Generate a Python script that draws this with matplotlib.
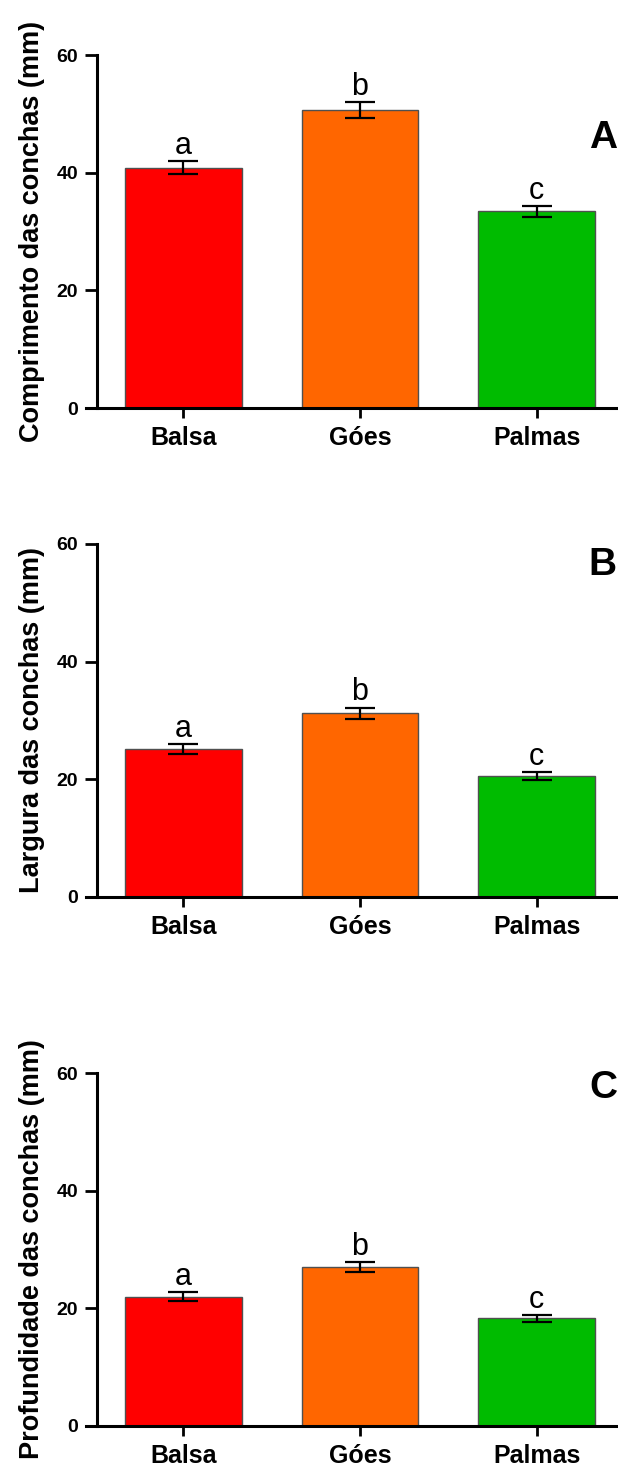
import matplotlib
matplotlib.use('Agg')
import matplotlib.pyplot as plt

plt.rcParams['font.family'] = ['Liberation Sans', 'DejaVu Sans']

locais = ['Balsa', 'Góes', 'Palmas']
cores = ['#FF0000', '#FF6600', '#00BB00']
letras = ['a', 'b', 'c']
ticks_y = [0, 20, 40, 60]

comprimento = [40.85, 50.65, 33.4]
comprimento_ep = [1.1, 1.35, 1.0]
largura = [25.2, 31.2, 20.6]
largura_ep = [0.85, 1.0, 0.65]
profundidade = [22.0, 27.1, 18.3]
profundidade_ep = [0.8, 0.85, 0.55]

paineis = [
    ('Comprimento das conchas (mm)', comprimento, comprimento_ep, 'A', 0.765),
    ('Largura das conchas (mm)', largura, largura_ep, 'B', 0.94),
    ('Profundidade das conchas (mm)', profundidade, profundidade_ep, 'C', 0.958),
]

fig = plt.figure(figsize=(6.18, 14.75), dpi=100)
fundos = [1 - 408 / 1475, 1 - 897 / 1475, 1 - 1426 / 1475]
altura = 353 / 1475
esq = 86 / 618
larg = 1 - esq

for (rotulo, medias, erros, letra, ypos), fundo in zip(paineis, fundos):
    ax = fig.add_axes([esq, fundo, larg, altura])
    # spine first: set_position resets the ticks
    ax.spines['left'].set_position(('axes', 0.02))
    ax.spines['top'].set_visible(False)
    ax.spines['right'].set_visible(False)
    ax.spines['left'].set_linewidth(2.2)
    ax.spines['bottom'].set_linewidth(2.2)

    x = list(range(len(locais)))
    ax.bar(x, medias, width=0.66, color=cores, edgecolor='#505050', linewidth=1, zorder=2)
    ax.errorbar(x, medias, yerr=erros, fmt='none', ecolor='black', elinewidth=1.6,
                capsize=10.5, capthick=1.6, zorder=3)
    for xi, m, e, l in zip(x, medias, erros, letras):
        ax.text(xi, m + e + 1.2, l, ha='center', va='baseline', fontsize=22)
    ax.set_xlim(-0.55, 2.46)
    ax.set_ylim(0, 60)
    ax.set_yticks(ticks_y, labels=[str(t) for t in ticks_y], fontsize=14, fontweight='bold')
    ax.set_xticks(x, labels=locais, fontsize=18, fontweight='bold')
    ax.set_ylabel(rotulo, fontsize=19.5, fontweight='bold', labelpad=8)
    ax.tick_params(axis='y', length=8.3, width=2, pad=5)
    ax.tick_params(axis='x', length=7, width=2, pad=6)
    ax.text(0.998, ypos, letra, transform=ax.transAxes, ha='right', va='center',
            fontsize=28, fontweight='bold')

fig.savefig('out.png', dpi=100)
